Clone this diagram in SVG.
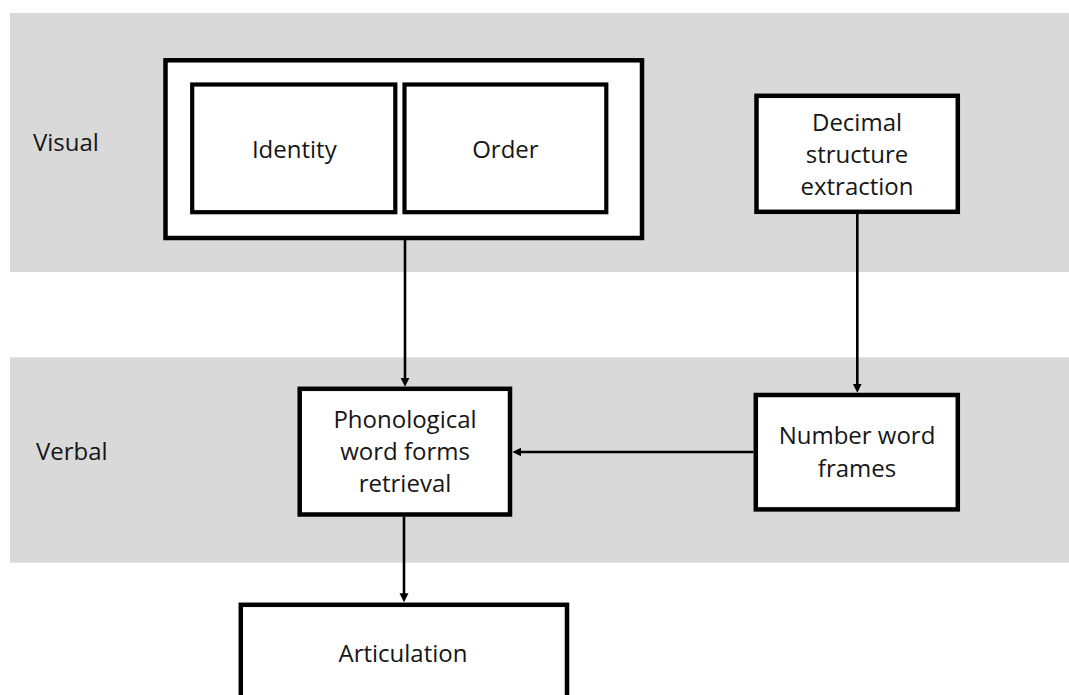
<svg xmlns="http://www.w3.org/2000/svg" width="1069" height="695" viewBox="0 0 1069 695">
  <style>
    .band { fill: #d9d9d9; }
    .box { fill: #ffffff; stroke: #000000; stroke-width: 4.5; }
    .inner { fill: #ffffff; stroke: #000000; stroke-width: 4.2; }
    .label { font-family: "Open Sans", "Noto Sans", "Liberation Sans", sans-serif; font-size: 24px; fill: #161616; }
    .mid { text-anchor: middle; }
    .link { fill: none; stroke: #000000; stroke-width: 2.6; }
  </style>
  <defs>
    <marker id="arrow" markerUnits="userSpaceOnUse" markerWidth="10" markerHeight="10" refX="2" refY="4.5" orient="auto">
      <path d="M0,0 L9,4.5 L0,9 z" fill="#000000"/>
    </marker>
  </defs>

  <!-- processing levels -->
  <g id="levels">
    <rect class="band" x="10" y="13" width="1059" height="259"/>
    <rect class="band" x="10" y="357.3" width="1059" height="205.4"/>
    <text class="label" x="33" y="151">Visual</text>
    <text class="label" x="36" y="460">Verbal</text>
  </g>

  <!-- visual analysis: identity and order -->
  <g id="visual-analysis">
    <rect class="box" x="165.5" y="60.3" width="476.5" height="177.7"/>
    <g id="identity">
      <rect class="inner" x="192.2" y="84.5" width="203.1" height="127.7"/>
      <text class="label mid" x="294.3" y="158">Identity</text>
    </g>
    <g id="order">
      <rect class="inner" x="404.5" y="84.5" width="201.8" height="127.7"/>
      <text class="label mid" x="505.4" y="158">Order</text>
    </g>
  </g>

  <g id="decimal-structure">
    <rect class="box" x="756.5" y="95.8" width="201.3" height="116"/>
    <text class="label mid" x="857" y="131">Decimal</text>
    <text class="label mid" x="857" y="163">structure</text>
    <text class="label mid" x="857" y="195">extraction</text>
  </g>

  <g id="phonological-retrieval">
    <rect class="box" x="299.7" y="388.8" width="210.3" height="125.7"/>
    <text class="label mid" x="405" y="428">Phonological</text>
    <text class="label mid" x="405" y="460">word forms</text>
    <text class="label mid" x="405" y="492">retrieval</text>
  </g>

  <g id="number-word-frames">
    <rect class="box" x="755.8" y="395" width="202" height="114.4"/>
    <text class="label mid" x="857" y="444">Number word</text>
    <text class="label mid" x="857" y="477">frames</text>
  </g>

  <g id="articulation">
    <rect class="box" x="240.8" y="604.8" width="326.2" height="110"/>
    <text class="label mid" x="403" y="662">Articulation</text>
  </g>

  <!-- connectors -->
  <g id="connectors">
    <path class="link" d="M405,240 V379.7" marker-end="url(#arrow)"/>
    <path class="link" d="M857.3,214 V385.7" marker-end="url(#arrow)"/>
    <path class="link" d="M753.5,452 H519.3" marker-end="url(#arrow)"/>
    <path class="link" d="M404,516.7 V595.3" marker-end="url(#arrow)"/>
  </g>
</svg>
